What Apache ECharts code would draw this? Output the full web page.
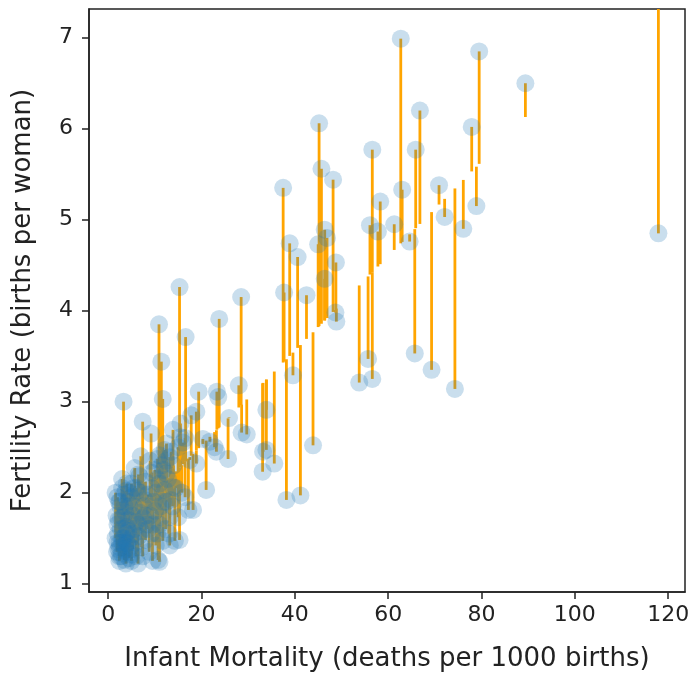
<!DOCTYPE html>
<html>
<head>
<meta charset="utf-8">
<script src="https://cdn.jsdelivr.net/npm/echarts@6/dist/echarts.min.js"></script>
<style>
  html, body { margin: 0; padding: 0; background: #fff; }
  #chart { width: 694px; height: 673px; }
</style>
</head>
<body>
<div id="chart"></div>
<script>
// Infant mortality (deaths per 1000 births) per country
const mortality = [
  62.7, 79.5, 89.4, 66.8, 45.2, 77.9, 56.6, 65.9, 45.7, 48.2,
  70.9, 37.5, 63.0, 58.3, 78.9, 72.1, 61.3, 56.1, 76.1, 46.4,
  57.8, 117.9, 64.6, 46.9, 45.0, 38.9, 40.6, 48.8, 46.4, 15.3,
  37.7, 42.5, 28.5, 48.7, 48.9, 23.8, 10.9, 16.6, 65.7, 55.7,
  11.4, 69.3, 39.6, 56.6, 53.8, 28.0, 74.3, 19.4, 23.3, 23.6,
  11.7, 3.3, 33.9, 18.9, 17.8, 25.9, 7.4, 15.5, 13.9, 9.2,
  28.6, 29.7, 20.3, 15.5, 21.8, 12.5, 43.9, 33.9, 33.2, 23.2,
  22.8, 12.1, 13.2, 25.7, 11.0, 10.6, 35.6, 18.9, 17.5, 33.1,
  5.7, 6.7, 10.0, 12.5, 21.0, 13.9, 38.2, 41.2, 18.2, 17.2,
  15.0, 13.2, 13.5, 15.3, 13.2, 14.3, 11.7, 11.0,
  1.6, 2.0, 2.3, 2.6, 3.0, 3.4, 3.8, 4.2, 4.6, 5.0,
  5.5, 6.2, 7.0, 7.8, 8.5, 9.3, 10.2, 11.0, 12.1, 1.8,
  2.2, 2.8, 3.2, 3.7, 4.4, 5.2, 6.0, 6.8, 7.5, 8.3,
  9.0, 10.0, 11.4, 1.6, 2.1, 2.5, 3.0, 3.5, 3.9, 4.2,
  4.8, 5.3, 5.8, 6.5, 7.2, 8.0, 9.3, 10.2, 1.9, 2.4,
  2.9, 3.5, 3.9, 4.5, 5.0, 6.4, 7.4, 8.8, 10.7, 2.7,
  4.0, 5.6, 7.0, 8.6, 9.6, 12.3, 3.0, 4.0, 6.5, 8.0,
  9.4, 11.5, 12.8, 13.8, 14.5, 7.6, 9.8, 11.8, 4.5, 2.0,
  5.5,
  2.5, 3.0, 2.2, 3.3, 2.8, 3.6, 4.0, 2.4, 4.8, 3.2,
  2.0, 5.5, 4.3, 3.8, 6.0, 5.0, 9.5, 11.2, 10.5, 11.8,
  12.5, 13.5, 14.0, 15.0, 16.0, 11.0, 12.5, 9.0, 7.0, 6.0,
  5.0, 3.5, 2.5, 13.0, 10.5, 8.0, 6.5, 15.8, 16.5, 16.5
];

// Fertility rate (births per woman) for the same countries
const fertility = [
  6.99, 6.85, 6.50, 6.20, 6.06, 6.02, 5.77, 5.77, 5.56, 5.44,
  5.38, 5.35, 5.33, 5.20, 5.15, 5.03, 4.95, 4.94, 4.90, 4.89,
  4.87, 4.85, 4.76, 4.80, 4.73, 4.74, 4.59, 4.53, 4.35, 4.26,
  4.20, 4.17, 4.15, 3.98, 3.88, 3.91, 3.85, 3.71, 3.53, 3.47,
  3.44, 3.35, 3.29, 3.25, 3.21, 3.18, 3.14, 3.11, 3.11, 3.05,
  3.03, 3.00, 2.91, 2.89, 2.85, 2.82, 2.78, 2.76, 2.69, 2.65,
  2.66, 2.64, 2.59, 2.61, 2.56, 2.54, 2.52, 2.47, 2.45, 2.45,
  2.50, 2.47, 2.39, 2.37, 2.41, 2.37, 2.32, 2.32, 2.36, 2.23,
  2.27, 2.18, 2.25, 2.21, 2.03, 2.06, 1.92, 1.97, 1.81, 1.81,
  1.73, 1.73, 1.92, 1.48, 1.42, 1.47, 1.47, 1.24,
  2.00, 1.95, 1.90, 1.85, 2.05, 1.98, 2.02, 1.90, 2.00, 1.95,
  2.05, 2.02, 2.00, 1.92, 1.98, 2.05, 2.00, 2.10, 2.03, 1.75,
  1.70, 1.72, 1.73, 1.78, 1.70, 1.75, 1.68, 1.78, 1.72, 1.65,
  1.75, 1.80, 1.73, 1.50, 1.55, 1.45, 1.50, 1.42, 1.55, 1.44,
  1.50, 1.38, 1.45, 1.52, 1.40, 1.48, 1.55, 1.42, 1.35, 1.30,
  1.33, 1.26, 1.35, 1.28, 1.32, 1.22, 1.30, 1.35, 1.26, 1.60,
  1.62, 1.60, 1.58, 1.60, 1.65, 1.60, 2.15, 2.10, 2.20, 2.12,
  2.22, 2.30, 2.15, 1.85, 2.05, 1.85, 1.90, 1.90, 1.85, 1.65,
  1.85,
  1.40, 1.45, 1.38, 1.50, 1.30, 1.38, 1.45, 1.25, 1.40, 1.60,
  1.45, 1.55, 1.58, 1.22, 1.30, 1.25, 1.25, 1.85, 2.15, 2.25,
  2.35, 2.45, 2.30, 2.50, 2.55, 1.65, 1.90, 2.35, 2.40, 2.05,
  2.10, 1.85, 1.90, 1.55, 1.55, 1.75, 1.65, 2.00, 1.95, 2.60
];

// Least-squares line: fertility = fitIntercept + fitSlope * mortality
const fitIntercept = 1.48;
const fitSlope = 0.052;

const xTicks = [0, 20, 40, 60, 80, 100, 120];
const yTicks = [1, 2, 3, 4, 5, 6, 7];

const points = mortality.map((m, i) => [m, fertility[i]]);

const FONT = 'DejaVu Sans';
const INK = '#222';

const chart = echarts.init(document.getElementById('chart'), null, { renderer: 'canvas' });

chart.setOption({
  animation: false,
  backgroundColor: '#fff',
  grid: {
    left: 89, right: 9, top: 9, bottom: 81,
    outerBoundsMode: 'none',
    containLabel: false,
    show: true, borderColor: INK, borderWidth: 1.5, backgroundColor: '#fff'
  },
  xAxis: {
    type: 'value',
    min: -4.1, max: 123.6,
    name: 'Infant Mortality (deaths per 1000 births)',
    nameLocation: 'middle',
    nameGap: 54,
    nameTextStyle: { fontFamily: FONT, fontSize: 26, color: INK },
    axisLine: { show: true, onZero: false, lineStyle: { color: INK, width: 1.5 } },
    axisTick: { show: true, customValues: xTicks, length: 7, lineStyle: { color: INK, width: 1.5 } },
    axisLabel: { customValues: xTicks, fontFamily: FONT, fontSize: 22, color: INK, margin: 12 },
    splitLine: { show: false }
  },
  yAxis: {
    type: 'value',
    min: 0.908, max: 7.316,
    name: 'Fertility Rate (births per woman)',
    nameLocation: 'middle',
    nameGap: 53,
    nameTextStyle: { fontFamily: FONT, fontSize: 26, color: INK },
    axisLine: { show: true, onZero: false, lineStyle: { color: INK, width: 1.5 } },
    axisTick: { show: true, customValues: yTicks, length: 7, lineStyle: { color: INK, width: 1.5 } },
    axisLabel: { customValues: yTicks, fontFamily: FONT, fontSize: 22, color: INK, margin: 16 },
    splitLine: { show: false }
  },
  series: [
    {
      // residuals: vertical segment from each observation to the fitted line
      type: 'custom',
      clip: true,
      z: 1,
      data: points,
      renderItem: function (params, api) {
        const x = api.value(0);
        const y = api.value(1);
        const yFit = fitIntercept + fitSlope * x;
        const p1 = api.coord([x, y]);
        const p2 = api.coord([x, yFit]);
        return {
          type: 'line',
          shape: { x1: p1[0], y1: p1[1], x2: p2[0], y2: p2[1] },
          style: { stroke: '#FFA500', lineWidth: 2.8 }
        };
      }
    },
    {
      type: 'scatter',
      z: 2,
      data: points,
      symbol: 'circle',
      symbolSize: 18,
      itemStyle: { color: 'rgba(31,119,180,0.3)' }
    }
  ]
});
</script>
</body>
</html>
